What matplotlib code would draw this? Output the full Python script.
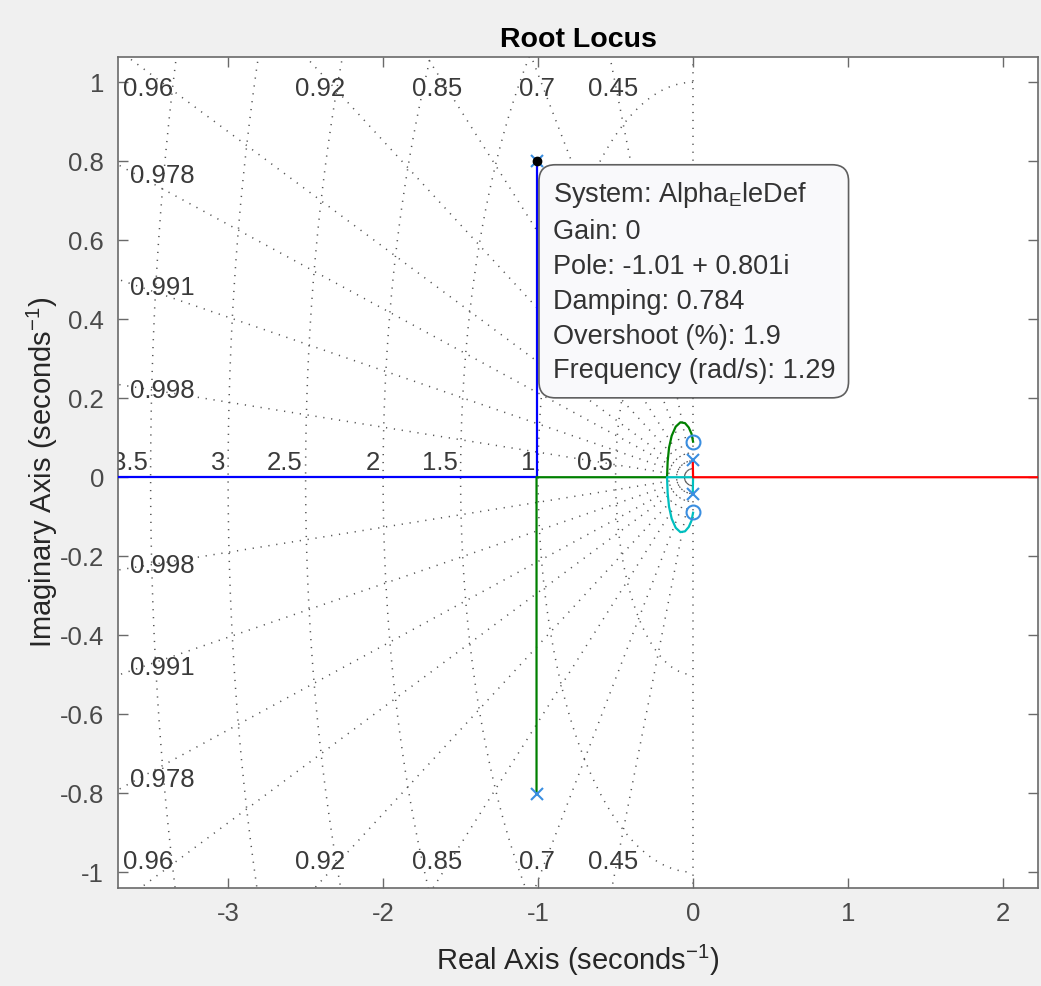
import matplotlib.pyplot as plt
import numpy as np
from matplotlib.ticker import FixedLocator

plt.rcParams["font.family"] = ["Liberation Sans", "DejaVu Sans"]
plt.rcParams["mathtext.fontset"] = "custom"
plt.rcParams["mathtext.rm"] = "Liberation Sans"
plt.rcParams["mathtext.it"] = "Liberation Sans:italic"
plt.rcParams["axes.unicode_minus"] = False

# s-plane grid: damping ratios and natural frequencies (rad/s)
zeta_grid = [0.998, 0.991, 0.978, 0.96, 0.92, 0.85, 0.7, 0.45]
wn_grid = [0.5, 1.0, 1.5, 2.0, 2.5, 3.0, 3.5]

# open-loop poles / zeros
pole_re = [-1.01, -1.01, -0.002, -0.002]
pole_im = [0.801, -0.801, 0.043, -0.043]
zero_re = [0.0, 0.0]
zero_im = [0.088, -0.088]

# locus branches (real, imag)
blue_re = [-1.01, -1.01, -4.0]
blue_im = [0.801, 0.0, 0.0]

loop_re = [-0.168, -0.164, -0.155, -0.138, -0.112, -0.082, -0.052, -0.028, -0.010, 0.0]
loop_im = [0.0, 0.040, 0.075, 0.105, 0.128, 0.139, 0.137, 0.126, 0.110, 0.090]

green_re = [-1.01, -1.01] + loop_re
green_im = [-0.801, 0.0] + loop_im
cyan_re = [-0.002, 0.0] + loop_re
cyan_im = [-0.043, 0.0] + [-v for v in loop_im]
red_re = [-0.002, 0.0, 2.5]
red_im = [0.043, 0.0, 0.0]

# selected point shown in the data tip
tip_gain = 0
tip_pole = complex(-1.01, 0.801)

xlim = (-3.71, 2.226)
ylim = (-1.04, 1.064)

fig = plt.figure(figsize=(10.41, 9.86), dpi=100, facecolor="#f0f0f0")
ax = fig.add_axes([0.1134, 0.0994, 0.8838, 0.8428])
ax.set_facecolor("white")

grid_kw = dict(color="#555555", lw=1.1, dashes=(0.8, 4.4), zorder=1)
lab_kw = dict(fontsize=18.5, color="#3a3a3a", clip_on=True, zorder=2)

# damping lines (and the imaginary axis)
R = 10.0
ax.plot([0, 0], [-R, R], **grid_kw)
for z in zeta_grid:
    th = np.arccos(z)
    for sgn in (1, -1):
        ax.plot([0, -R * np.cos(th)], [0, sgn * R * np.sin(th)], **grid_kw)
    slope = np.tan(th)
    if slope * 3.62 < 0.95:
        ylab = slope * 3.62 - 0.01
        ax.text(-3.63, ylab, f"{z:g}", ha="left", va="center", **lab_kw)
        ax.text(-3.63, -ylab - 0.005, f"{z:g}", ha="left", va="center", **lab_kw)
    else:
        xlab = -1.025 / slope
        ax.text(xlab, 0.982, f"{z:g}", ha="center", va="center", **lab_kw)
        ax.text(xlab, -0.975, f"{z:g}", ha="center", va="center", **lab_kw)

# natural frequency semicircles
phi = np.linspace(np.pi / 2, 3 * np.pi / 2, 400)
for w in wn_grid:
    ax.plot(w * np.cos(phi), w * np.sin(phi), **grid_kw)
    ax.text(-w - 0.02, 0.036, f"{w:g}", ha="right", va="center", **lab_kw)

# locus branches
ax.plot(blue_re, blue_im, color="#0000ff", lw=1.6, zorder=3)
ax.plot(green_re, green_im, color="#008000", lw=1.6, zorder=3)
ax.plot(cyan_re, cyan_im, color="#00bfbf", lw=1.6, zorder=3)
ax.plot(red_re, red_im, color="#ff0000", lw=1.6, zorder=3)

mk = "#3a8ee0"
ax.plot(pole_re, pole_im, "x", color=mk, ms=9, mew=1.5, zorder=4)
ax.plot(zero_re, zero_im, "o", color=mk, ms=10, mew=1.5, mfc="none", zorder=4)

# data tip
zeta_tip = -tip_pole.real / abs(tip_pole)
wn_tip = abs(tip_pole)
overshoot = 100 * np.exp(-zeta_tip * np.pi / np.sqrt(1 - zeta_tip ** 2))
ax.plot(tip_pole.real, tip_pole.imag, "o", color="black", ms=6, zorder=6)
tip_text = (
    "System: Alpha$_{\\mathrm{E}}$leDef\n"
    f"Gain: {tip_gain}\n"
    f"Pole: {tip_pole.real:.3g} + {tip_pole.imag:.3g}i\n"
    f"Damping: {zeta_tip:.3g}\n"
    f"Overshoot (%): {overshoot:.2g}\n"
    f"Frequency (rad/s): {wn_tip:.3g}"
)
ax.annotate(
    tip_text, xy=(tip_pole.real, tip_pole.imag), xytext=(11.5, -14),
    textcoords="offset points", ha="left", va="top", fontsize=19.5,
    color="#333333", linespacing=1.44, zorder=7,
    bbox=dict(boxstyle="round,pad=0.5,rounding_size=0.6", fc="#f9f9fb", ec="#5f5f5f", lw=1.2),
)

ax.set_xlim(xlim)
ax.set_ylim(ylim)
ax.xaxis.set_major_locator(FixedLocator([-3, -2, -1, 0, 1, 2]))
ax.yaxis.set_major_locator(FixedLocator(np.round(np.arange(-1, 1.01, 0.2), 1)))
ax.yaxis.set_major_formatter(plt.FuncFormatter(lambda v, p: f"{v + 0.0:g}"))
ax.tick_params(direction="in", length=7, width=1, colors="#6a6a6a", labelcolor="#4a4a4a",
               labelsize=18.5, top=True, right=True)
ax.tick_params(axis="x", pad=10)
ax.tick_params(axis="y", pad=10)
for s in ax.spines.values():
    s.set_color("#6a6a6a")
    s.set_linewidth(1.2)

ax.set_title("Root Locus", fontsize=20.5, fontweight="bold", pad=7)
ax.set_xlabel("Real Axis (seconds$^{-1}$)", fontsize=21, color="#262626", labelpad=12)
ax.set_ylabel("Imaginary Axis (seconds$^{-1}$)", fontsize=21, color="#262626", labelpad=0)

fig.savefig("out.png", dpi=100, facecolor=fig.get_facecolor())
